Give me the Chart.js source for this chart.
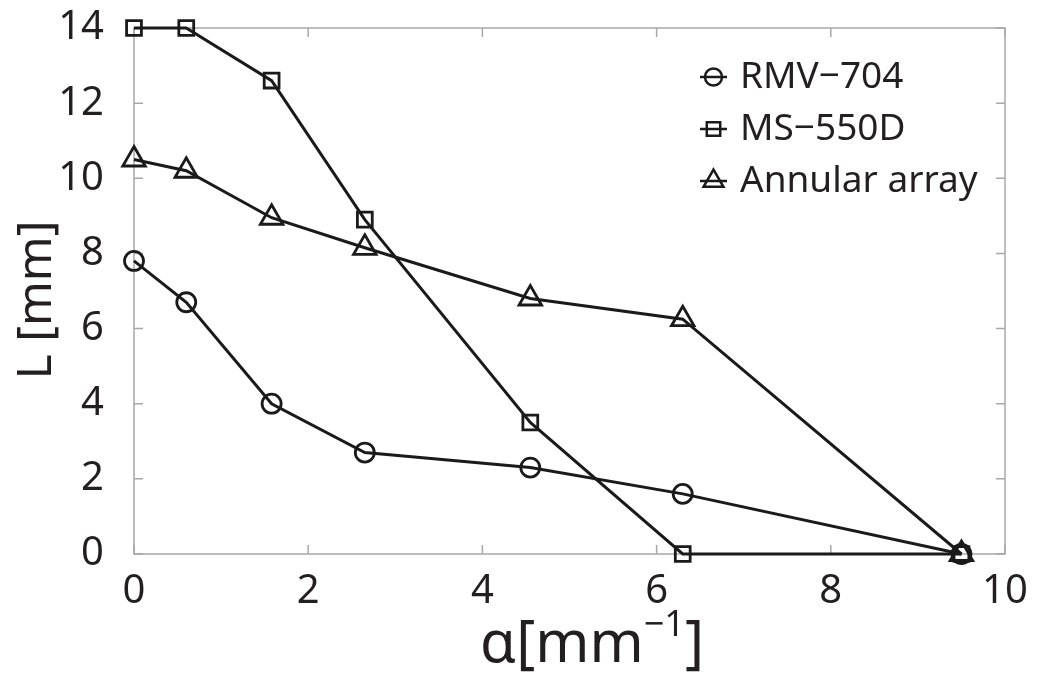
<!DOCTYPE html>
<html>
<head>
<meta charset="utf-8">
<script src="https://cdn.jsdelivr.net/npm/chart.js@4"></script>
<style>
  body { margin: 0; background: #fff; }
  #wrap { width: 1043px; height: 675px; position: relative; }
</style>
</head>
<body>
<div id="wrap"><canvas id="lengthChart"></canvas></div>
<script>
// alpha [mm^-1] for each measurement
const alphaValues = [0, 0.6, 1.58, 2.65, 4.55, 6.3, 9.5];
const rmvValues = [7.8, 6.7, 4.0, 2.7, 2.3, 1.6, 0];
const msValues = [14, 14, 12.6, 8.9, 3.5, 0, 0];
const annularValues = [10.5, 10.2, 8.95, 8.15, 6.8, 6.25, 0];
const seriesNames = ['RMV\u2212704', 'MS\u2212550D', 'Annular array'];
const xTicks = [0, 2, 4, 6, 8, 10];
const yTicks = [0, 2, 4, 6, 8, 10, 12, 14];

const FONT = '"Noto Sans", "Open Sans", sans-serif';
const INK = '#231f20';

const toPoints = vals => vals.map((v, i) => ({ x: alphaValues[i], y: v }));

const markerStyles = [
    { pointStyle: 'circle', radius: 9.5, legendRadius: 8.5 },
    { pointStyle: 'rect', radius: 10.5, legendRadius: 9.5 },
    { pointStyle: 'triangle', radius: 13, legendRadius: 11.5 }
];

function makeSet(label, vals, m) {
    return {
        label: label,
        data: toPoints(vals),
        showLine: true,
        borderColor: '#1a1a1a',
        borderWidth: 3,
        pointStyle: m.pointStyle,
        pointRadius: m.radius,
        pointBackgroundColor: 'rgba(255,255,255,0)',
        pointBorderColor: '#1a1a1a',
        pointBorderWidth: 2.8,
        clip: false
    };
}

// box around plot area with inward ticks on all four sides
const boxPlugin = {
    id: 'box',
    beforeDatasetsDraw(chart) {
        const { ctx, chartArea: a, scales } = chart;
        ctx.save();
        ctx.strokeStyle = '#a8a8a8';
        ctx.lineWidth = 1.5;
        ctx.strokeRect(a.left, a.top, a.right - a.left, a.bottom - a.top);
        const len = 9;
        ctx.beginPath();
        xTicks.forEach(t => {
            const px = scales.x.getPixelForValue(t);
            ctx.moveTo(px, a.bottom); ctx.lineTo(px, a.bottom - len);
            ctx.moveTo(px, a.top); ctx.lineTo(px, a.top + len);
        });
        yTicks.forEach(t => {
            const py = scales.y.getPixelForValue(t);
            ctx.moveTo(a.left, py); ctx.lineTo(a.left + len, py);
            ctx.moveTo(a.right, py); ctx.lineTo(a.right - len, py);
        });
        ctx.stroke();
        ctx.restore();
    },
    afterDraw(chart) {
        const { ctx } = chart;
        ctx.save();
        ctx.fillStyle = INK;

        // y title
        ctx.save();
        ctx.translate(37, 300);
        ctx.rotate(-Math.PI / 2);
        ctx.font = '48px ' + FONT;
        ctx.textAlign = 'center';
        ctx.textBaseline = 'middle';
        ctx.fillText('L [mm]', 0, 0);
        ctx.restore();

        // x title with superscript
        const big = '58px ' + FONT;
        const small = '36px ' + FONT;
        const base = 662;
        const parts = [
            { t: '\u03b1[mm', f: big, dy: 0 },
            { t: '\u22121', f: small, dy: -26 },
            { t: ']', f: big, dy: 0 }
        ];
        let total = 0;
        parts.forEach(p => { ctx.font = p.f; p.w = ctx.measureText(p.t).width; total += p.w; });
        let x = 592 - total / 2;
        ctx.textBaseline = 'alphabetic';
        ctx.textAlign = 'left';
        parts.forEach(p => { ctx.font = p.f; ctx.fillText(p.t, x, base + p.dy); x += p.w; });

        // legend
        const rows = [77, 129, 181];
        ctx.font = '37px ' + FONT;
        ctx.textBaseline = 'middle';
        rows.forEach((ry, i) => {
            ctx.strokeStyle = '#1a1a1a';
            ctx.lineWidth = 2.5;
            ctx.beginPath();
            ctx.moveTo(700, ry); ctx.lineTo(727, ry);
            ctx.stroke();
            ctx.fillStyle = 'rgba(255,255,255,0)';
            ctx.lineWidth = 2.5;
            Chart.helpers.drawPoint(ctx, {
                pointStyle: markerStyles[i].pointStyle,
                radius: markerStyles[i].legendRadius,
                rotation: 0,
                borderWidth: 2.5
            }, 713.5, ry);
            ctx.fillStyle = INK;
            ctx.fillText(seriesNames[i], 740, ry);
        });
        ctx.restore();
    }
};

new Chart(document.getElementById('lengthChart'), {
    type: 'scatter',
    data: {
        datasets: [
            makeSet(seriesNames[0], rmvValues, markerStyles[0]),
            makeSet(seriesNames[1], msValues, markerStyles[1]),
            makeSet(seriesNames[2], annularValues, markerStyles[2])
        ]
    },
    options: {
        responsive: true,
        maintainAspectRatio: false,
        animation: false,
        layout: { padding: { top: 28, right: 38, left: 0, bottom: 0 } },
        plugins: {
            legend: { display: false },
            tooltip: { enabled: false }
        },
        scales: {
            x: {
                type: 'linear',
                min: 0, max: 10,
                afterBuildTicks: s => { s.ticks = xTicks.map(v => ({ value: v })); },
                afterFit: s => { s.height = 121; s.paddingLeft = 0; s.paddingRight = 0; },
                grid: { display: false },
                border: { display: false },
                ticks: { color: INK, font: { family: FONT, size: 40 }, padding: 6, maxRotation: 0 }
            },
            y: {
                type: 'linear',
                min: 0, max: 14,
                afterBuildTicks: s => { s.ticks = yTicks.map(v => ({ value: v })); },
                afterFit: s => { s.width = 134; s.paddingTop = 0; s.paddingBottom = 0; },
                grid: { display: false },
                border: { display: false },
                ticks: { color: INK, font: { family: FONT, size: 40 }, padding: 22 }
            }
        }
    },
    plugins: [boxPlugin]
});
</script>
</body>
</html>
